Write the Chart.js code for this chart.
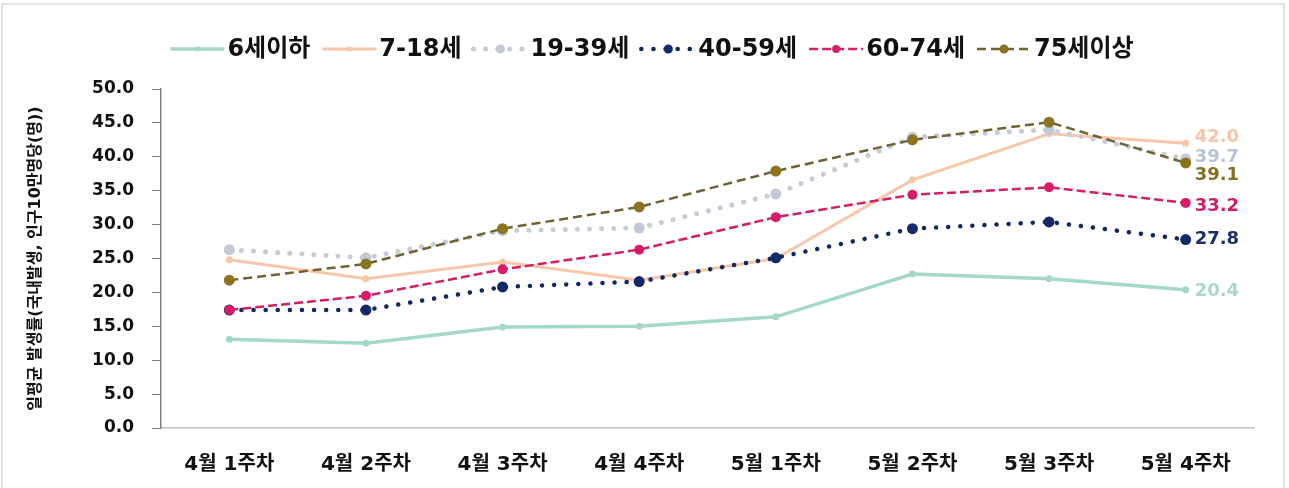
<!DOCTYPE html>
<html>
<head>
<meta charset="utf-8">
<script src="https://cdn.jsdelivr.net/npm/chart.js@4"></script>
<style>
  html, body { margin: 0; padding: 0; background: #fff; }
  #wrap { width: 1289px; height: 488px; position: relative; }
</style>
</head>
<body>
<div id="wrap"><canvas id="chart" width="1289" height="488"></canvas></div>
<script>
// categories and series
const weeks = ['4월 1주차', '4월 2주차', '4월 3주차', '4월 4주차', '5월 1주차', '5월 2주차', '5월 3주차', '5월 4주차'];
const seriesNames = ['6세이하', '7-18세', '19-39세', '40-59세', '60-74세', '75세이상'];
const under6 = [13.1, 12.5, 14.9, 15.0, 16.4, 22.7, 22.0, 20.4];
const age7to18 = [24.8, 22.0, 24.5, 21.8, 25.0, 36.6, 43.4, 42.0];
const age19to39 = [26.3, 25.1, 29.1, 29.5, 34.5, 42.9, 44.0, 39.7];
const age40to59 = [17.4, 17.4, 20.8, 21.6, 25.1, 29.4, 30.4, 27.8];
const age60to74 = [17.4, 19.5, 23.4, 26.3, 31.1, 34.4, 35.5, 33.2];
const over75 = [21.8, 24.2, 29.4, 32.6, 37.9, 42.5, 45.1, 39.1];
const yTicks = [0, 5, 10, 15, 20, 25, 30, 35, 40, 45, 50];

const NUM_FONT = "'DejaVu Sans', 'Noto Sans CJK KR', sans-serif";
const KR_FONT = "'DejaVu Sans', 'Noto Sans CJK KR', sans-serif";

// line style per series
const styles = [
  { line: '#a3d9c6', point: '#a3d9c6', label: '#a8d8c8', width: 3.5, dash: [], cap: 'butt', r: 3.5, nudge: 2 },
  { line: '#f8c7aa', point: '#f8c7aa', label: '#f7c4a6', width: 3, dash: [], cap: 'butt', r: 3.5, nudge: -6 },
  { line: '#c6ccd8', point: '#c3c9d5', label: '#b9c3d4', width: 5, dash: [0.1, 12], cap: 'round', r: 5.5, nudge: -2 },
  { line: '#142860', point: '#142a68', label: '#1b3068', width: 4.5, dash: [0.1, 12], cap: 'round', r: 5.5, nudge: 0 },
  { line: '#d31f68', point: '#d81c6a', label: '#cf1e67', width: 2.5, dash: [9, 4], cap: 'butt', r: 5, nudge: 3 },
  { line: '#6f6333', point: '#8a7420', label: '#84701f', width: 2.5, dash: [9, 5], cap: 'butt', r: 5.5, nudge: 12 }
];
const seriesData = [under6, age7to18, age19to39, age40to59, age60to74, over75];

const datasets = seriesData.map((d, i) => ({
  label: seriesNames[i],
  data: d,
  borderColor: styles[i].line,
  backgroundColor: styles[i].point,
  pointBackgroundColor: styles[i].point,
  pointBorderColor: styles[i].point,
  pointRadius: styles[i].r,
  pointBorderWidth: 0,
  borderWidth: styles[i].width,
  borderDash: styles[i].dash,
  borderCapStyle: styles[i].cap,
  tension: 0,
  fill: false,
  order: 5 - i   // later series drawn on top, like the original
}));

// value labels after the last point
const endLabels = {
  id: 'endLabels',
  afterDatasetsDraw(chart) {
    const ctx = chart.ctx;
    ctx.save();
    ctx.font = 'bold 18px ' + NUM_FONT;
    ctx.textAlign = 'left';
    ctx.textBaseline = 'middle';
    chart.data.datasets.forEach((ds, i) => {
      const pt = chart.getDatasetMeta(i).data[ds.data.length - 1];
      ctx.fillStyle = styles[i].label;
      ctx.fillText(ds.data[ds.data.length - 1].toFixed(1), pt.x + 9, pt.y + styles[i].nudge);
    });
    ctx.restore();
  }
};

// legend row drawn like the original (line sample with a marker)
const lineLegend = {
  id: 'lineLegend',
  afterDraw(chart) {
    const ctx = chart.ctx;
    ctx.save();
    ctx.font = 'bold 24px ' + KR_FONT;
    const sample = 54, gap = 3, space = 12, cy = 49;
    const widths = seriesNames.map(n => ctx.measureText(n).width);
    const total = widths.reduce((a, w) => a + sample + gap + w + space, 0) - space;
    let x = 652 - total / 2;
    seriesNames.forEach((n, i) => {
      const s = styles[i];
      ctx.beginPath();
      ctx.setLineDash(s.dash);
      ctx.lineCap = s.cap;
      ctx.lineWidth = s.width;
      ctx.strokeStyle = s.line;
      ctx.moveTo(x, cy);
      ctx.lineTo(x + sample, cy);
      ctx.stroke();
      ctx.setLineDash([]);
      ctx.beginPath();
      ctx.fillStyle = s.point;
      ctx.arc(x + sample / 2, cy, s.r - 1, 0, Math.PI * 2);
      ctx.fill();
      ctx.fillStyle = '#111';
      ctx.textBaseline = 'middle';
      ctx.fillText(n, x + sample + gap, cy + 1);
      x += sample + gap + widths[i] + space;
    });
    ctx.restore();
  }
};

const frame = {
  id: 'frame',
  beforeDraw(chart) {
    const ctx = chart.ctx;
    ctx.save();
    ctx.fillStyle = '#fff';
    ctx.fillRect(0, 0, chart.width, chart.height);
    ctx.strokeStyle = '#dfe4ea';
    ctx.lineWidth = 2;
    ctx.strokeRect(2, 4, chart.width - 7, chart.height + 4);
    ctx.restore();
  }
};

new Chart(document.getElementById('chart'), {
  type: 'line',
  data: { labels: weeks, datasets: datasets },
  options: {
    responsive: false,
    animation: false,
    layout: { padding: { top: 89, right: 35, bottom: 0, left: 0 } },
    plugins: {
      legend: { display: false },
      tooltip: { enabled: false }
    },
    scales: {
      x: {
        offset: true,
        grid: { display: true, drawOnChartArea: false, drawTicks: false },
        border: { color: '#c3c3c3', width: 1.5 },
        ticks: {
          color: '#111',
          padding: 25,
          maxRotation: 0,
          font: { family: KR_FONT, size: 20, weight: 'bold' }
        },
        afterFit(scale) { scale.height = 60; }
      },
      y: {
        min: 0,
        max: 50,
        afterBuildTicks(scale) { scale.ticks = yTicks.map(v => ({ value: v })); },
        grid: { drawOnChartArea: false, drawTicks: true, tickLength: 9, color: '#808080' },
        border: { color: '#808080', width: 1.5 },
        ticks: {
          color: '#111',
          padding: 18,
          font: { family: NUM_FONT, size: 17, weight: 'bold' },
          callback: v => v.toFixed(1)
        },
        title: {
          display: true,
          text: '일평균 발생률(국내발생, 인구10만명당(명))',
          color: '#111',
          padding: { top: 26, bottom: 0 },
          font: { family: KR_FONT, size: 16, weight: 'bold' }
        },
        afterFit(scale) { scale.width = 161; }
      }
    }
  },
  plugins: [frame, endLabels, lineLegend]
});
</script>
</body>
</html>
